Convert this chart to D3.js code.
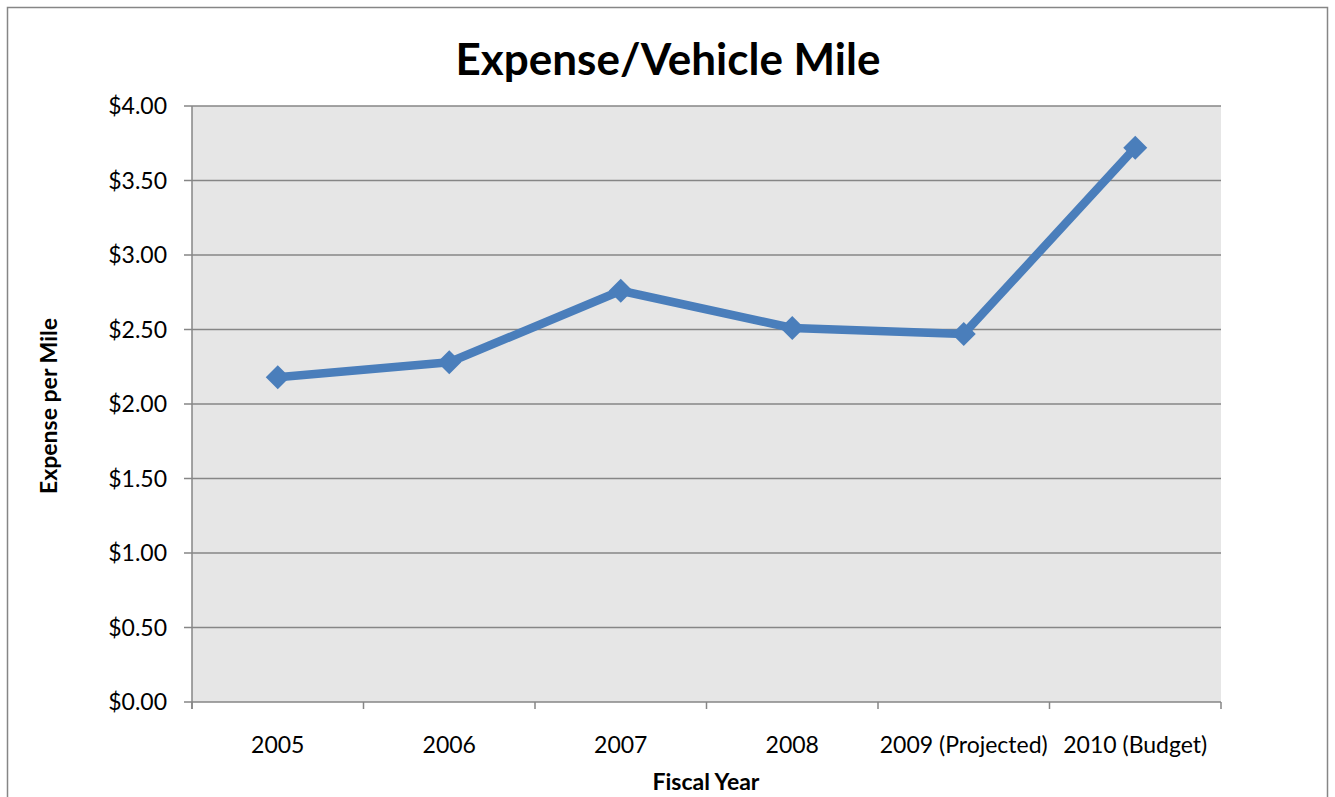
<!DOCTYPE html>
<html><head><meta charset="utf-8">
<script src="https://cdn.jsdelivr.net/npm/d3@7"></script>
<style>body{margin:0;background:#fff}svg{display:block}text{font-family:Lato,"Open Sans",sans-serif;fill:#000}</style>
</head><body>
<script>
const categories = ["2005","2006","2007","2008","2009 (Projected)","2010 (Budget)"];
const values = [2.18, 2.28, 2.76, 2.51, 2.47, 3.72];
const yTicks = [0,0.5,1,1.5,2,2.5,3,3.5,4];
const title = "Expense/Vehicle Mile";
const xTitle = "Fiscal Year";
const yTitle = "Expense per Mile";

const W=1335,H=797;
const m={l:192,r:1221,t:106,b:702};
const svg=d3.select("body").append("svg").attr("width",W).attr("height",H);
svg.append("rect").attr("x",7.5).attr("y",7.5).attr("width",1320).attr("height",H).attr("fill","#fff").attr("stroke","#868686").attr("stroke-width",1.5);

const x=d3.scaleBand().domain(categories).range([m.l,m.r]);
const y=d3.scaleLinear().domain([0,4]).range([m.b,m.t]);

svg.append("rect").attr("x",m.l).attr("y",m.t).attr("width",m.r-m.l).attr("height",m.b-m.t).attr("fill","#e6e6e6");

svg.append("g").selectAll("line").data(yTicks).join("line")
 .attr("x1",m.l-8).attr("x2",m.r).attr("y1",d=>y(d)).attr("y2",d=>y(d))
 .attr("stroke","#868686").attr("stroke-width",1.5);
svg.append("line").attr("x1",m.l).attr("x2",m.l).attr("y1",m.t).attr("y2",m.b+7).attr("stroke","#868686").attr("stroke-width",1.5);
const xb=[...categories.map(c=>x(c)), m.r];
svg.append("g").selectAll("line").data(xb).join("line")
 .attr("x1",d=>d).attr("x2",d=>d).attr("y1",m.b).attr("y2",m.b+7)
 .attr("stroke","#868686").attr("stroke-width",1.5);

svg.append("g").selectAll("text").data(yTicks).join("text")
 .attr("x",167).attr("y",d=>y(d)).attr("dy","0.36em").attr("text-anchor","end")
 .attr("font-size",23).text(d=>"$"+d3.format(".2f")(d));
svg.append("g").selectAll("text").data(categories).join("text")
 .attr("x",d=>x(d)+x.bandwidth()/2).attr("y",753).attr("text-anchor","middle")
 .attr("font-size",23).text(d=>d);

const line=d3.line().x((d,i)=>x(categories[i])+x.bandwidth()/2).y(d=>y(d));
svg.append("path").datum(values).attr("d",line).attr("fill","none")
 .attr("stroke","#4a7ebb").attr("stroke-width",8.5).attr("stroke-linejoin","round");
svg.append("g").selectAll("path").data(values).join("path")
 .attr("transform",(d,i)=>`translate(${x(categories[i])+x.bandwidth()/2},${y(d)})`)
 .attr("d","M0,-12L12,0L0,12L-12,0Z").attr("fill","#4a7ebb");

svg.append("text").attr("x",668).attr("y",75).attr("text-anchor","middle")
 .attr("font-size",44).attr("font-weight","bold").text(title);
svg.append("text").attr("x",706).attr("y",790).attr("text-anchor","middle")
 .attr("font-size",23).attr("font-weight","bold").text(xTitle);
svg.append("text").attr("transform","translate(57,406) rotate(-90)").attr("text-anchor","middle")
 .attr("font-size",23).attr("font-weight","bold").text(yTitle);
</script>
</body></html>
